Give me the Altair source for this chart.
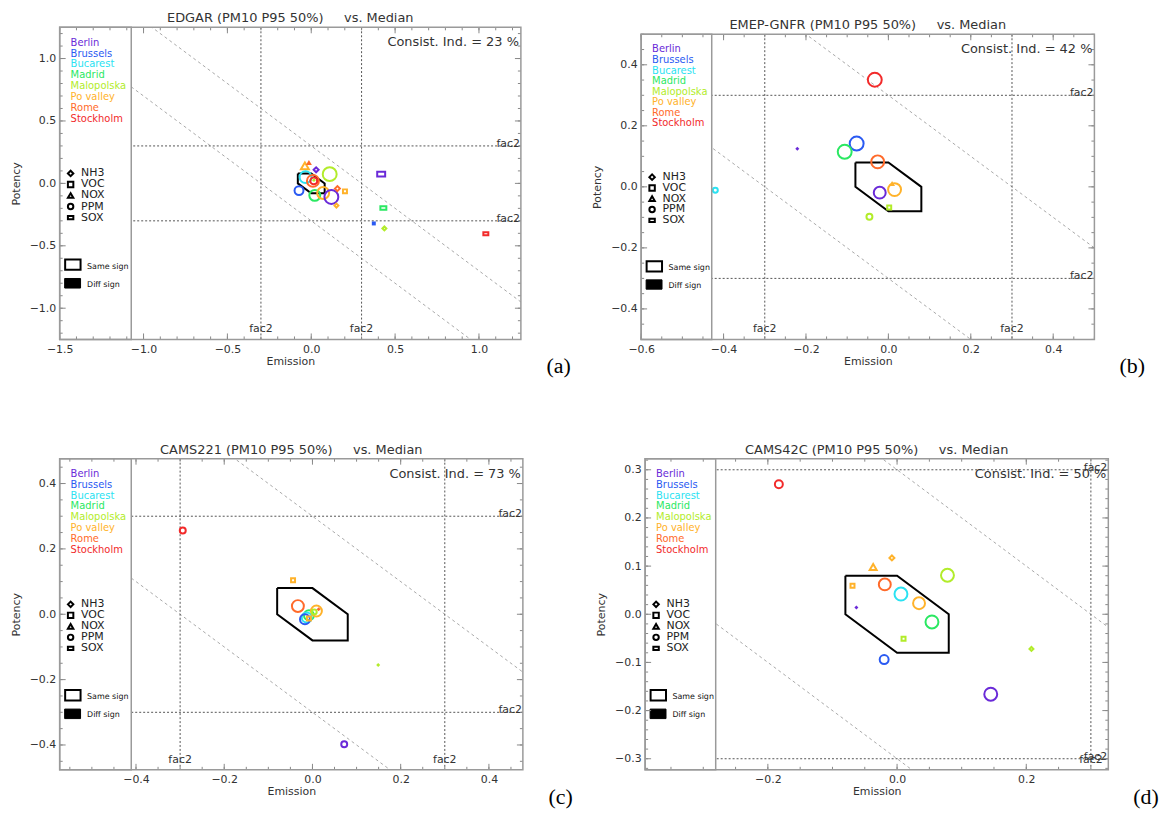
import altair as alt
import numpy as np
import pandas as pd

FONT = "DejaVu Sans"
CITIES = ["Berlin", "Brussels", "Bucarest", "Madrid", "Malopolska", "Po valley", "Rome", "Stockholm"]
COLORS = ["#6a2ad8", "#2a5af2", "#2ae2f2", "#2ae862", "#b2ec2a", "#ffb22a", "#ff6a2a", "#f22a2a"]
SPECIES = ["NH3", "VOC", "NOX", "PPM", "SOX"]
SHAPES = ["diamond", "square", "triangle-up", "circle", "M-1,-0.6L1,-0.6L1,0.6L-1,0.6Z"]
FAC = 0.3
HEX_X = [-0.08, 0.0, 0.08, 0.08, 0.0, -0.08, -0.08]
HEX_Y = [0.08, 0.08, 0.0, -0.08, -0.08, 0.0, 0.08]

# (a) EDGAR
A_CITY = ["Po valley", "Rome", "Berlin", "Malopolska", "Bucarest", "Rome", "Stockholm", "Malopolska", "Brussels",
          "Madrid", "Po valley", "Berlin", "Rome", "Po valley", "Po valley", "Berlin", "Madrid", "Brussels",
          "Malopolska", "Stockholm"]
A_SPEC = ["NOX", "NOX", "NH3", "PPM", "PPM", "PPM", "PPM", "PPM", "PPM", "PPM", "PPM", "PPM", "NH3", "VOC", "NH3",
          "SOX", "SOX", "VOC", "NH3", "SOX"]
A_X = [-0.038, -0.014, 0.029, 0.110, -0.034, 0.010, 0.015, 0.016, -0.073, 0.021, 0.071, 0.120, 0.156, 0.201, 0.150,
       0.417, 0.430, 0.373, 0.436, 1.041]
A_Y = [0.140, 0.167, 0.109, 0.074, 0.050, 0.020, 0.020, 0.025, -0.058, -0.096, -0.077, -0.109, -0.042, -0.064,
       -0.178, 0.074, -0.197, -0.321, -0.361, -0.403]
A_MAG = [8, 6, 5, 14, 12, 12, 7, 3, 9, 11, 12, 14, 5, 4, 4, 8, 6, 4, 4, 5]
A_FILL = [0, 1, 0, 0, 0, 0, 0, 1, 0, 0, 0, 0, 0, 0, 0, 0, 0, 1, 0, 0]

# (b) EMEP-GNFR
B_CITY = ["Stockholm", "Brussels", "Madrid", "Berlin", "Rome", "Po valley", "Po valley", "Berlin", "Malopolska",
          "Malopolska", "Bucarest"]
B_SPEC = ["PPM", "PPM", "PPM", "NH3", "PPM", "NOX", "PPM", "PPM", "VOC", "PPM", "PPM"]
B_X = [-0.033, -0.077, -0.106, -0.221, -0.026, 0.009, 0.015, -0.021, 0.002, -0.046, -0.420]
B_Y = [0.351, 0.142, 0.115, 0.125, 0.082, 0.011, -0.009, -0.019, -0.068, -0.098, -0.011]
B_MAG = [14, 14, 14, 4, 13, 6, 13, 12, 4, 6, 5]
B_FILL = [0, 0, 0, 1, 0, 1, 0, 0, 0, 0, 0]

# (c) CAMS221
C_CITY = ["Stockholm", "Po valley", "Rome", "Madrid", "Bucarest", "Brussels", "Po valley", "Malopolska", "Po valley",
          "Rome", "Malopolska", "Berlin"]
C_SPEC = ["PPM", "VOC", "PPM", "PPM", "PPM", "PPM", "PPM", "PPM", "VOC", "NH3", "NH3", "PPM"]
C_X = [-0.294, -0.044, -0.033, -0.008, -0.013, -0.017, 0.009, 0.004, -0.008, 0.014, 0.149, 0.072]
C_Y = [0.256, 0.104, 0.025, -0.003, -0.010, -0.015, 0.010, 0.007, -0.013, 0.015, -0.155, -0.398]
C_MAG = [6, 4, 12, 10, 10, 10, 11, 5, 4, 4, 4, 6]
C_FILL = [0, 0, 0, 0, 0, 0, 0, 0, 0, 1, 1, 0]

# (d) CAMS42C
D_CITY = ["Stockholm", "Po valley", "Po valley", "Malopolska", "Po valley", "Rome", "Bucarest", "Po valley", "Berlin",
          "Madrid", "Malopolska", "Brussels", "Malopolska", "Berlin"]
D_SPEC = ["PPM", "NH3", "NOX", "PPM", "VOC", "PPM", "PPM", "PPM", "NH3", "PPM", "VOC", "PPM", "NH3", "PPM"]
D_X = [-0.183, -0.008, -0.037, 0.078, -0.069, -0.019, 0.006, 0.034, -0.063, 0.054, 0.010, -0.020, 0.208, 0.145]
D_Y = [0.270, 0.117, 0.098, 0.081, 0.059, 0.062, 0.042, 0.023, 0.014, -0.016, -0.051, -0.094, -0.072, -0.166]
D_MAG = [8, 5, 7, 13, 4, 12, 13, 12, 4, 13, 4, 9, 4, 13]
D_FILL = [0, 0, 0, 0, 0, 0, 0, 0, 1, 0, 0, 0, 0, 0]

PANELS = [
    dict(title="EDGAR (PM10 P95 50%)", ci=23, letter="(a)", w=464, h=314, xdom=[-1.5, 1.25], ydom=[-1.25, 1.25],
         xt=[-1.5, -1.0, -0.5, 0.0, 0.5, 1.0], yt=[-1.0, -0.5, 0.0, 0.5, 1.0], xm=0.1, ym=0.1, leg=72,
         city=A_CITY, spec=A_SPEC, x=A_X, y=A_Y, mag=A_MAG, fill=A_FILL),
    dict(title="EMEP-GNFR (PM10 P95 50%)", ci=42, letter="(b)", w=456, h=307, xdom=[-0.6, 0.5], ydom=[-0.5, 0.5],
         xt=[-0.6, -0.4, -0.2, 0.0, 0.2, 0.4], yt=[-0.4, -0.2, 0.0, 0.2, 0.4], xm=0.05, ym=0.05, leg=71,
         city=B_CITY, spec=B_SPEC, x=B_X, y=B_Y, mag=B_MAG, fill=B_FILL),
    dict(title="CAMS221 (PM10 P95 50%)", ci=73, letter="(c)", w=466, h=313, xdom=[-0.573, 0.477],
         ydom=[-0.476, 0.476], xt=[-0.4, -0.2, 0.0, 0.2, 0.4], yt=[-0.4, -0.2, 0.0, 0.2, 0.4], xm=0.05, ym=0.05,
         leg=72, city=C_CITY, spec=C_SPEC, x=C_X, y=C_Y, mag=C_MAG, fill=C_FILL),
    dict(title="CAMS42C (PM10 P95 50%)", ci=50, letter="(d)", w=466, h=313, xdom=[-0.39, 0.327],
         ydom=[-0.323, 0.323], xt=[-0.2, 0.0, 0.2], yt=[-0.3, -0.2, -0.1, 0.0, 0.1, 0.2, 0.3], xm=0.05, ym=0.02,
         leg=71, city=D_CITY, spec=D_SPEC, x=D_X, y=D_Y, mag=D_MAG, fill=D_FILL),
]

ONE = pd.DataFrame({"t": [""]})
CSCALE = alt.Scale(domain=CITIES, range=COLORS)
SSCALE = alt.Scale(domain=SPECIES, range=SHAPES)
ZSCALE = alt.Scale(type="pow", exponent=2, domain=[0, 20], range=[0, 400])


def txt(text, x, y, size=11, color="#333", align="left", baseline="middle", font=FONT, weight="normal"):
    return alt.Chart(pd.DataFrame({"t": [text]})).mark_text(
        fontSize=size, color=color, align=align, baseline=baseline, font=font, fontWeight=weight
    ).encode(x=alt.value(x), y=alt.value(y), text="t:N")


def minor(lo, hi, step):
    v = np.arange(np.ceil(lo / step - 1e-6) * step, hi + 1e-9, step)
    return [round(float(a), 4) for a in v]


def panel(P):
    w, h = P["w"], P["h"]
    x0, x1 = P["xdom"]
    y0, y1 = P["ydom"]
    k = h / 314.0
    xs = alt.Scale(domain=[x0, x1], nice=False, zero=False)
    ys = alt.Scale(domain=[y0, y1], nice=False, zero=False)
    xax = alt.Axis(values=P["xt"], format=".1f", title="Emission", titleY=22, titleBaseline="middle",
                   orient="bottom")
    yax = alt.Axis(values=P["yt"], format=".1f", title="Potency", titleX=-43.5, titleY=h / 2,
                   titleBaseline="middle", orient="left")

    def X(f):
        return alt.X(f, type="quantitative", scale=xs, axis=xax)

    def Y(f):
        return alt.Y(f, type="quantitative", scale=ys, axis=yax)

    layers = []
    # diagonal fac2 lines x + y = +-FAC
    dx = [x0 - 1.0, x1 + 1.0]
    diag = pd.DataFrame({"x": dx + dx, "y": [FAC - v for v in dx] + [-FAC - v for v in dx], "g": ["u", "u", "l", "l"]})
    layers.append(alt.Chart(diag).mark_line(clip=True, color="#a8a8a8", strokeDash=[3, 3], strokeWidth=1)
                  .encode(x=X("x"), y=Y("y"), detail="g:N"))
    fv = pd.DataFrame({"v": [-FAC, FAC], "t": ["fac2", "fac2"]})
    layers.append(alt.Chart(fv).mark_rule(clip=True, color="#555", strokeDash=[2, 2], strokeWidth=1)
                  .encode(x=X("v")))
    layers.append(alt.Chart(fv).mark_rule(clip=True, color="#555", strokeDash=[2, 2], strokeWidth=1)
                  .encode(y=Y("v")))
    fvx = fv[(fv.v > x0) & (fv.v < x1)]
    layers.append(alt.Chart(fvx).mark_text(fontSize=11, color="#333", align="center", baseline="alphabetic",
                                           font=FONT)
                  .encode(x=X("v"), y=alt.value(h - 7), text="t:N"))
    layers.append(alt.Chart(fv).mark_text(fontSize=11, color="#333", align="right", baseline="alphabetic",
                                          font=FONT, dy=1)
                  .encode(y=Y("v"), x=alt.value(w - 1), text="t:N"))
    # hexagon (+-0.08 consistency zone)
    hexdf = pd.DataFrame({"x": HEX_X, "y": HEX_Y, "o": list(range(len(HEX_X)))})
    layers.append(alt.Chart(hexdf).mark_line(color="black", strokeWidth=2)
                  .encode(x=X("x"), y=Y("y"), order="o:Q"))
    # markers
    pts = pd.DataFrame({"city": P["city"], "spec": P["spec"], "x": P["x"], "y": P["y"], "mag": P["mag"],
                        "fill": P["fill"]})
    enc = dict(x=X("x"), y=Y("y"),
               color=alt.Color("city:N", scale=CSCALE, legend=None),
               shape=alt.Shape("spec:N", scale=SSCALE, legend=None),
               size=alt.Size("mag:Q", scale=ZSCALE, legend=None))
    layers.append(alt.Chart(pts[pts.fill == 0]).mark_point(filled=False, strokeWidth=2, opacity=1).encode(**enc))
    layers.append(alt.Chart(pts[pts.fill == 1]).mark_point(filled=True, opacity=1).encode(**enc))
    # legend box
    layers.append(alt.Chart(ONE).mark_rect(fill="white", stroke="#9a9a9a", strokeWidth=1.5)
                  .encode(x=alt.value(0), x2=alt.value(P["leg"]), y=alt.value(0), y2=alt.value(h)))
    for i, (c, col) in enumerate(zip(CITIES, COLORS)):
        layers.append(txt(c, 11, k * (15.5 + 10.9 * i), size=10, color=col))
    for j, (s, shp) in enumerate(zip(SPECIES, SHAPES)):
        yy = k * (147 + 11.1 * j)
        layers.append(alt.Chart(ONE).mark_point(shape=shp, filled=False, size=30, strokeWidth=2, color="black",
                                                opacity=1)
                      .encode(x=alt.value(11), y=alt.value(yy)))
        layers.append(txt(s, 21.5, yy, size=11, color="#222"))
    layers.append(alt.Chart(ONE).mark_rect(fill="white", stroke="black", strokeWidth=2)
                  .encode(x=alt.value(5.5), x2=alt.value(21), y=alt.value(k * 233.5), y2=alt.value(k * 244)))
    layers.append(txt("Same sign", 27.5, k * 240.7, size=8, color="#111"))
    layers.append(alt.Chart(ONE).mark_rect(fill="black", stroke="black", strokeWidth=1)
                  .encode(x=alt.value(5), x2=alt.value(21), y=alt.value(k * 252.7), y2=alt.value(k * 262.3)))
    layers.append(txt("Diff sign", 27.5, k * 259, size=8, color="#111"))
    # inward ticks (IDL style box axes)
    for vals, L in ((P["xt"], 6), (minor(x0, x1, P["xm"]), 3)):
        td = pd.DataFrame({"v": vals})
        layers.append(alt.Chart(td).mark_rule(color="#888", strokeWidth=1)
                      .encode(x=X("v"), y=alt.value(h), y2=alt.value(h - L)))
        layers.append(alt.Chart(td).mark_rule(color="#888", strokeWidth=1)
                      .encode(x=X("v"), y=alt.value(0), y2=alt.value(L)))
    for vals, L in ((P["yt"], 6), (minor(y0, y1, P["ym"]), 3)):
        td = pd.DataFrame({"v": vals})
        layers.append(alt.Chart(td).mark_rule(color="#888", strokeWidth=1)
                      .encode(y=Y("v"), x=alt.value(w), x2=alt.value(w - L)))
        layers.append(alt.Chart(td).mark_rule(color="#888", strokeWidth=1)
                      .encode(y=Y("v"), x=alt.value(0), x2=alt.value(L)))
    # frame
    layers.append(alt.Chart(ONE).mark_rect(filled=False, stroke="#9a9a9a", strokeWidth=1.5)
                  .encode(x=alt.value(0), x2=alt.value(w), y=alt.value(0), y2=alt.value(h)))
    # texts
    layers.append(txt(P["title"] + "\u00a0\u00a0\u00a0\u00a0\u00a0vs. Median", w / 2, -5, size=13, color="#333",
                      align="center", baseline="alphabetic"))
    layers.append(txt("Consist. Ind. = %d %%" % P["ci"], w - 2, 15, size=13, color="#333", align="right"))
    layers.append(txt(P["letter"], w + 38, h + 27, size=22, color="black", align="center",
                      font="Liberation Serif"))
    return alt.layer(*layers).properties(width=w, height=h)


def spacer(w, h):
    return alt.Chart(ONE).mark_point(opacity=0).encode(x=alt.value(0), y=alt.value(0)).properties(width=w, height=h)


pa, pb, pc, pd_ = [panel(P) for P in PANELS]
bwrap = alt.vconcat(spacer(456, 7), pb, spacing=0, bounds="flush")
dwrap = alt.hconcat(spacer(4, 313), pd_, spacing=0, bounds="flush")
chart = alt.concat(pa, bwrap, pc, dwrap, columns=2, bounds="flush",
                   spacing=alt.RowColnumber(row=120, column=119)).properties(
    padding={"left": 2, "top": 2, "right": 2, "bottom": 2}
).configure_view(strokeOpacity=0).configure_axis(
    labelFont=FONT, labelFontSize=11, labelColor="#333", titleFont=FONT, titleFontSize=11,
    titleFontWeight="normal", titleColor="#333", grid=False, ticks=False, tickSize=0, domain=False,
    labelPadding=4, labelFlush=False, labelOverlap=False
)
chart.save("out.html", embed_options={"renderer": "svg", "actions": False})
